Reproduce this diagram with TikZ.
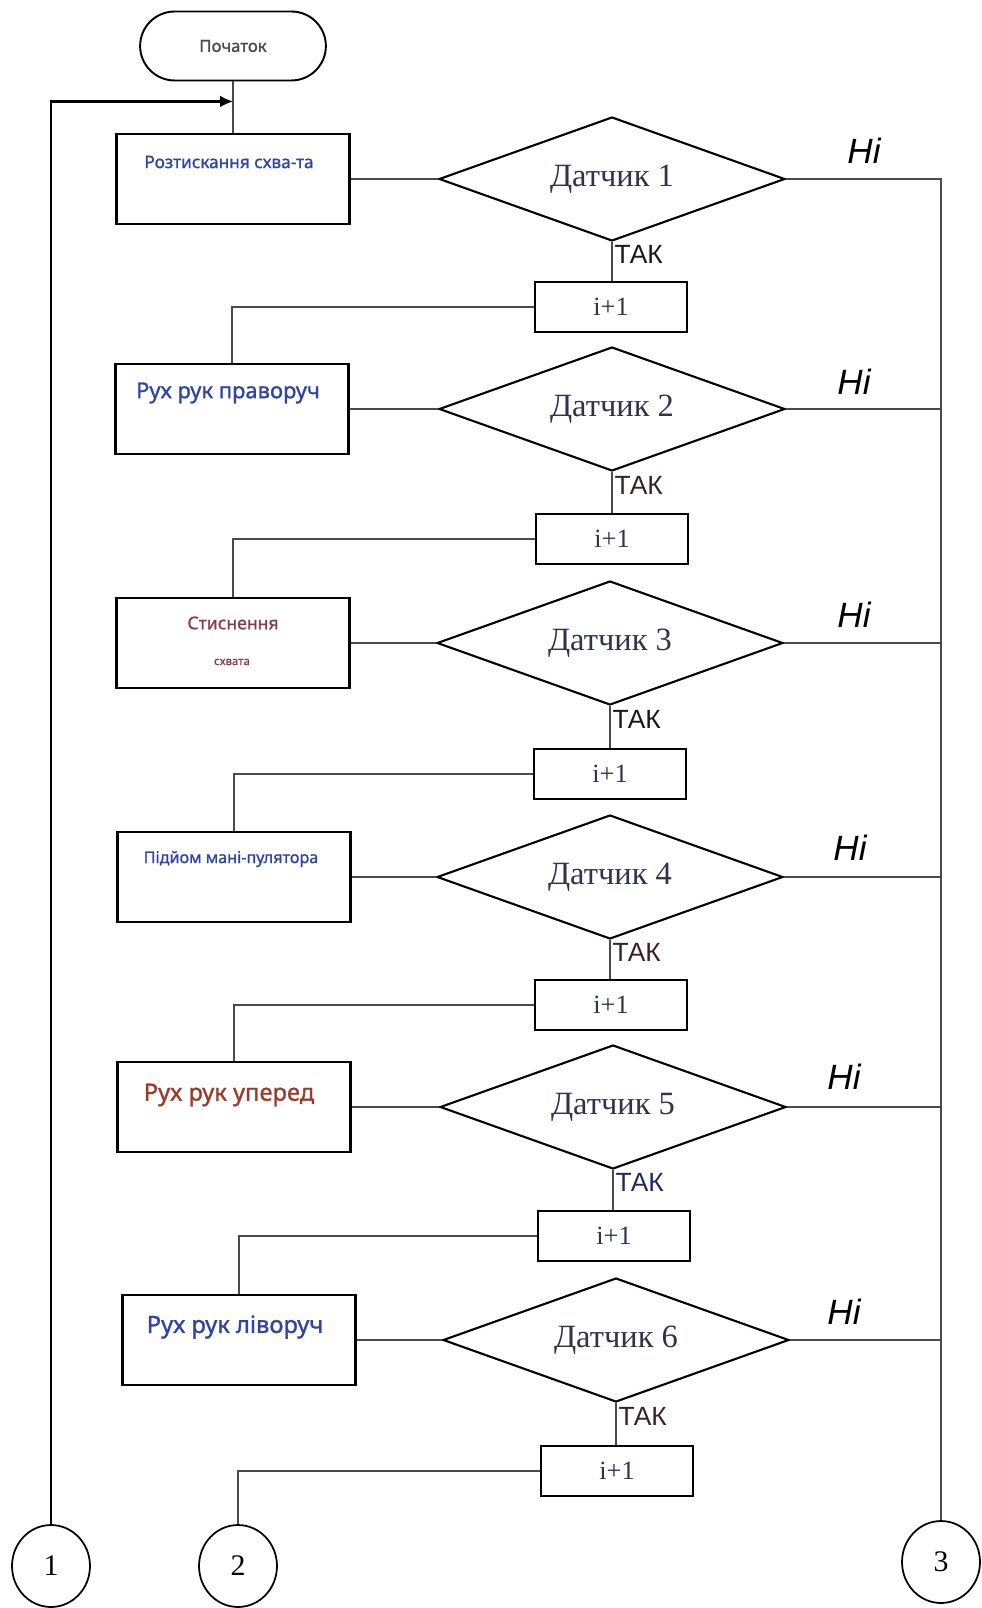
\documentclass[tikz,border=0pt]{standalone}
\usepackage{fontspec}
\setmainfont{Liberation Serif}
\setsansfont{Liberation Sans}
\newfontfamily\boxfont[FakeBold=1.2]{Noto Sans}
\usetikzlibrary{shapes,shapes.geometric,arrows.meta,positioning,calc}
\definecolor{inkblue}{HTML}{2F45A3}
\definecolor{inkmaroon}{HTML}{8A3A4C}
\definecolor{inkrust}{HTML}{9A3B2B}
\definecolor{inkdark}{HTML}{30334A}
\definecolor{inkbrown}{HTML}{3A2222}
\definecolor{inknavy}{HTML}{23295E}
\definecolor{lineg}{HTML}{4A4A4A}

\begin{document}
\begin{tikzpicture}[x=0.02cm, y=-0.02cm,
  term_/.style={rounded rectangle, draw, line width=1.1pt, minimum width=3.95cm, minimum height=1.38cm, font=\boxfont\fontsize{9.5}{11}\selectfont, text=black!70},
  box_/.style={rectangle, draw, line width=1.4pt, minimum width=4.66cm, minimum height=1.8cm, inner sep=0pt},
  txt_/.style={inner sep=0pt, font=\boxfont\fontsize{#1}{#1}\selectfont},
  dmd_/.style={diamond, draw, line width=1.2pt, aspect=2.79, minimum width=6.92cm, minimum height=2.48cm, inner sep=0pt, font=\fontsize{18.5}{20}\selectfont, text=inkdark},
  inc_/.style={rectangle, draw, line width=1.3pt, minimum width=3.04cm, minimum height=1.0cm, font=\fontsize{15}{16}\selectfont, text=inkdark},
  pin_/.style={ellipse, draw, line width=1pt, minimum width=1.56cm, minimum height=1.64cm, inner sep=0pt, font=\fontsize{17}{18}\selectfont},
  no_/.style={font=\sffamily\itshape\fontsize{20}{22}\selectfont, inner sep=0pt},
  yes_/.style={font=\sffamily\fontsize{15}{16}\selectfont, inner sep=1pt, anchor=west, pos=0.32},
  conn_/.style={line width=1pt, lineg},
  loop_/.style={-{Latex[length=0.26cm, width=0.24cm]}, line width=1.3pt, black}
]
  \useasboundingbox (0,0) rectangle (982,1608);

  % start
  \node[term_] (start) at (233,46) {Початок};

  % action boxes
  \node[box_] (s1) at (233,179) {};
  \node[box_] (s2) at (232,409) {};
  \node[box_] (s3) at (233,643) {};
  \node[box_] (s4) at (234,877) {};
  \node[box_] (s5) at (234,1107) {};
  \node[box_] (s6) at (239,1340) {};
  \node[txt_=9.8, inkblue]  (t1) at (229,162) {Розтискання схва-та};
  \node[txt_=12.5, inkblue] (t2) at (228,393) {Рух рук праворуч};
  \node[txt_=10, inkmaroon] (t3) at (233,623) {Стиснення};
  \node[txt_=6.5, inkmaroon] (t3b) at (232,662) {схвата};
  \node[txt_=9.2, inkblue]  (t4) at (231,859) {Підйом мані-пулятора};
  \node[txt_=13.5, inkrust] (t5) at (229,1095) {Рух рук уперед};
  \node[txt_=13.5, inkblue] (t6) at (235,1327) {Рух рук ліворуч};

  % sensors
  \node[dmd_] (d1) at (612,179) {Датчик 1};
  \node[dmd_] (d2) at (612,409) {Датчик 2};
  \node[dmd_] (d3) at (610,643) {Датчик 3};
  \node[dmd_] (d4) at (610,877) {Датчик 4};
  \node[dmd_] (d5) at (613,1107) {Датчик 5};
  \node[dmd_] (d6) at (616,1340) {Датчик 6};

  % counters
  \node[inc_] (p1) at (611,307) {i+1};
  \node[inc_] (p2) at (612,539) {i+1};
  \node[inc_] (p3) at (610,774) {i+1};
  \node[inc_] (p4) at (611,1005) {i+1};
  \node[inc_] (p5) at (614,1236) {i+1};
  \node[inc_] (p6) at (617,1471) {i+1};

  % connectors
  \node[pin_] (c1) at (51,1566) {1};
  \node[pin_] (c2) at (238,1566) {2};
  \node[pin_] (c3) at (941,1562) {3};

  \node[no_] (n1) at (864,151) {Ні};
  \node[no_] (n2) at (854,382) {Ні};
  \node[no_] (n3) at (854,615) {Ні};
  \node[no_] (n4) at (850,848) {Ні};
  \node[no_] (n5) at (844,1077) {Ні};
  \node[no_] (n6) at (844,1312) {Ні};

  \coordinate (loopin) at ($(start.south)+(0,20)$);
  \draw[conn_] (start.south) -- (start.south |- s1.north);
  \draw[loop_] (c1.north) |- (loopin);

  \draw[conn_] (s1.east) -- (d1.west);
  \draw[conn_] (s2.east) -- (d2.west);
  \draw[conn_] (s3.east) -- (d3.west);
  \draw[conn_] (s4.east) -- (d4.west);
  \draw[conn_] (s5.east) -- (d5.west);
  \draw[conn_] (s6.east) -- (d6.west);

  \draw[conn_] (d1.south) -- (d1.south |- p1.north) node[yes_, black!90] {ТАК};
  \draw[conn_] (d2.south) -- (d2.south |- p2.north) node[yes_, inkbrown] {ТАК};
  \draw[conn_] (d3.south) -- (d3.south |- p3.north) node[yes_, black!90] {ТАК};
  \draw[conn_] (d4.south) -- (d4.south |- p4.north) node[yes_, inkbrown] {ТАК};
  \draw[conn_] (d5.south) -- (d5.south |- p5.north) node[yes_, inknavy] {ТАК};
  \draw[conn_] (d6.south) -- (d6.south |- p6.north) node[yes_, inkbrown] {ТАК};

  \draw[conn_] (p1.west) -| (s2.north);
  \draw[conn_] (p2.west) -| (s3.north);
  \draw[conn_] (p3.west) -| (s4.north);
  \draw[conn_] (p4.west) -| (s5.north);
  \draw[conn_] (p5.west) -| (s6.north);
  \draw[conn_] (p6.west) -| (c2.north);

  \draw[conn_] (d1.east) -| (c3.north);
  \foreach \i in {2,...,6}
    \draw[conn_] (d\i.east) -- (d\i.east -| c3.north);
\end{tikzpicture}
\end{document}
